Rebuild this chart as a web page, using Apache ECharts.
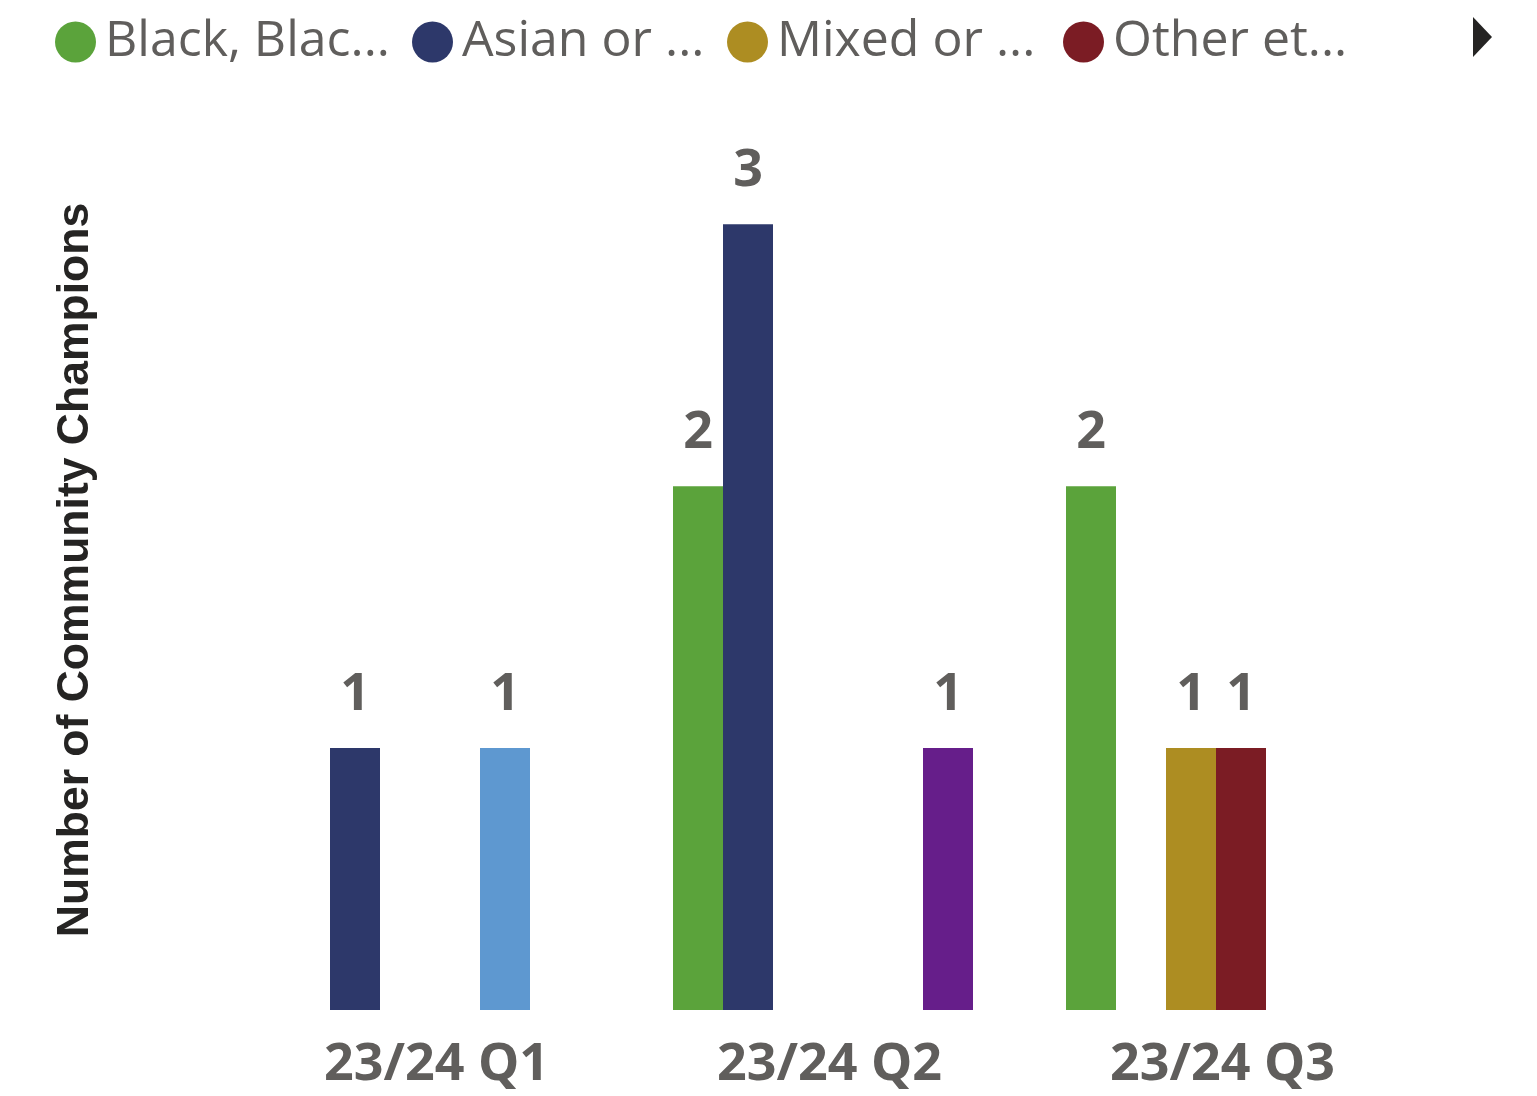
<!DOCTYPE html>
<html>
<head>
<meta charset="utf-8">
<title>Community Champions by ethnic group</title>
<script src="https://cdn.jsdelivr.net/npm/echarts@6/dist/echarts.min.js"></script>
<style>
  html, body { margin: 0; padding: 0; background: #ffffff; }
  #chart { width: 1537px; height: 1096px; }
</style>
</head>
<body>
<div id="chart"></div>
<script>
// Quarters on the x axis
const quarters = ['23/24 Q1', '23/24 Q2', '23/24 Q3'];

// Ethnic groups (series order = bar order within each quarter)
const groupNames = [
  'Black, Black British, Caribbean or African',
  'Asian or Asian British',
  'Mixed or Multiple ethnic groups',
  'Other ethnic group',
  'White',
  'Prefer not to say'
];
const groupColors = ['#5BA33B', '#2D386A', '#AD8D22', '#7B1C24', '#5E98D0', '#661E8A'];

// Number of Community Champions per quarter for each group
const blackValues = [null, 2, 2];
const asianValues = [1, 3, null];
const mixedValues = [null, null, 1];
const otherValues = [null, null, 1];
const whiteValues = [1, null, null];
const notSayValues = [null, 1, null];

// Legend entries visible on the first legend page, with their shortened text
const legendLabels = ['Black, Blac...', 'Asian or ...', 'Mixed or ...', 'Other et...'];
const legendLefts = [55, 412, 727, 1063];

const valuesByGroup = [blackValues, asianValues, mixedValues, otherValues, whiteValues, notSayValues];

const labelGrey = '#605E5C';
const uiFont = '"Open Sans", "Noto Sans", sans-serif';

const series = groupNames.map((name, i) => ({
  name: name,
  type: 'bar',
  data: valuesByGroup[i],
  barWidth: 50,
  barGap: '0%',
  itemStyle: { color: groupColors[i] },
  label: {
    show: true,
    position: 'top',
    distance: 27,
    color: labelGrey,
    fontFamily: uiFont,
    fontWeight: 'bold',
    fontSize: 52
  }
}));

const legends = legendLabels.map((text, i) => ({
  data: [groupNames[i]],
  left: legendLefts[i],
  top: 17,
  padding: 0,
  itemWidth: 41,
  itemHeight: 41,
  icon: 'circle',
  selectedMode: false,
  formatter: () => text,
  textStyle: {
    color: labelGrey,
    fontFamily: uiFont,
    fontSize: 50,
    padding: [4, 0, 0, 4]
  }
}));

const chart = echarts.init(document.getElementById('chart'), null, { renderer: 'canvas' });

chart.setOption({
  backgroundColor: '#ffffff',
  animation: false,
  legend: legends,
  grid: { left: 233.5, right: 124.5, top: 130, bottom: 86 },
  xAxis: {
    type: 'category',
    data: quarters,
    axisLine: { show: false },
    axisTick: { show: false },
    axisLabel: {
      color: labelGrey,
      fontFamily: uiFont,
      fontWeight: 'bold',
      fontSize: 52,
      margin: 29,
      padding: [0, 0, 0, 13]
    }
  },
  yAxis: {
    type: 'value',
    min: 0,
    max: 3.36,
    axisLine: { show: false },
    axisTick: { show: false },
    axisLabel: { show: false },
    splitLine: { show: false },
    name: 'Number of Community Champions',
    nameLocation: 'middle',
    nameRotate: 90,
    nameGap: 135,
    nameTextStyle: {
      color: '#252423',
      fontFamily: '"Liberation Sans", Arial, sans-serif',
      fontWeight: 'bold',
      fontSize: 44.5
    }
  },
  graphic: [{
    // next-page arrow of the legend
    type: 'polygon',
    shape: { points: [[1473, 17], [1492, 37], [1473, 57]] },
    style: { fill: '#252423' }
  }],
  series: series
});
</script>
</body>
</html>
